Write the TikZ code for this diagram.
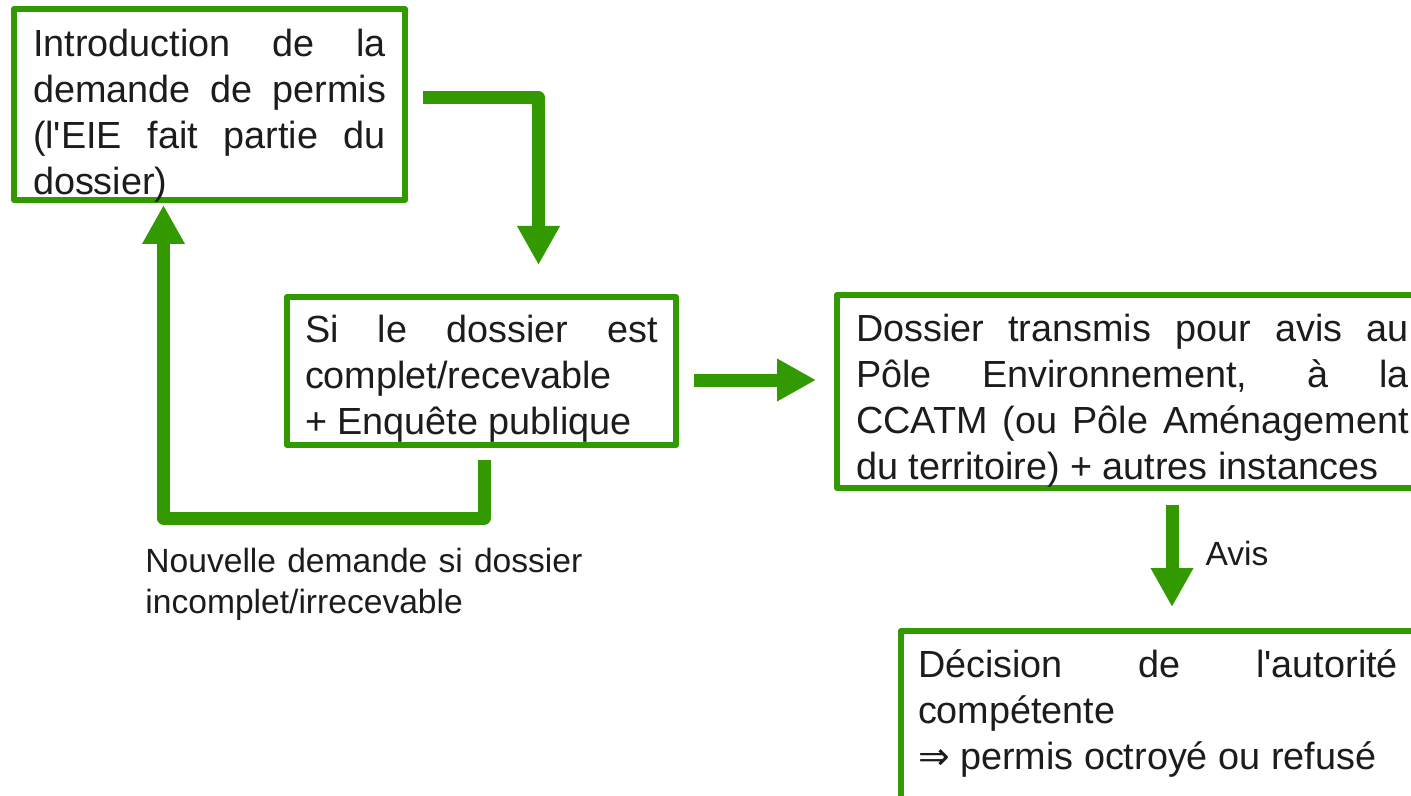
\documentclass[tikz,border=0pt]{standalone}
\usepackage{fontspec}
\setmainfont{Liberation Sans}
\newfontfamily\flechefont{DejaVu Sans}
\usetikzlibrary{arrows.meta}
\definecolor{vert}{RGB}{51,153,0}
\definecolor{encre}{RGB}{28,28,28}
\tolerance=10000
\hbadness=10000
\hyphenpenalty=10000
\exhyphenpenalty=10000

\begin{document}
\begin{tikzpicture}[x=0.5pt, y=-0.5pt]
        \tikzstyle{etape} = [rectangle, draw=vert, line width=3pt, line join=round, outer sep=0pt, inner ysep=0pt, anchor=north west, align=justify, text=encre, font=\fontsize{18.9}{23}\selectfont];
        \tikzstyle{fleche} = [draw=vert, line width=6.5pt, line join=round, -{Triangle[length=19.5pt, width=20pt]}];
        \tikzstyle{note} = [text=encre, inner sep=0pt, font=\fontsize{16.8}{20.5}\selectfont];

        \useasboundingbox (0,0) rectangle (1411,796);
        \clip (0,0) rectangle (1411,796);

        \node(intro) [etape, inner xsep=9.5pt, text width=176.5pt, text height=24pt, text depth=71.5pt] at (14,9) {Introduction de la\linebreak demande de permis\linebreak (l\textquotesingle EIE fait partie du\linebreak dossier)};
        \node(check) [etape, inner xsep=9pt, text width=176.5pt, text height=23pt, text depth=51pt] at (287,297) {Si le dossier est\linebreak complet/recevable\\ + Enquête publique};
        \node(transmis) [etape, inner xsep=9.5pt, text width=276.5pt, text height=23pt, text depth=73.5pt] at (837,295) {Dossier transmis pour avis au\linebreak Pôle Environnement, à la\linebreak CCATM (ou Pôle Aménagement\linebreak du territoire) + autres instances};
        \node(decision) [etape, inner xsep=8.5pt, text width=240pt, text height=23pt, text depth=61pt] at (901,631) {Décision de l\textquotesingle autorité\linebreak compétente\\ {\flechefont ⇒} permis octroyé ou refusé};
        \node(retour) [note, anchor=base west, text width=240pt, align=left] at (145,572) {Nouvelle demande si dossier\\ incomplet/irrecevable};

        \draw[fleche] ([shift={(18,-7)}]intro.east) -| ([shift={(57,-32)}]check.north);
        \draw[fleche] ([shift={(2.5,15)}]check.south) -- ++(0,58) -| ([shift={(-46,5)}]intro.south);
        \draw[fleche, shorten <=9pt, shorten >=10.5pt] (check.east |- 0,380) -- (transmis.west |- 0,380);
        \draw[fleche, shorten <=8.5pt, shorten >=12pt] (1172,0 |- transmis.south) -- (1172,0 |- decision.north) node[note, pos=0.4545, anchor=west, xshift=13.5pt] {Avis};

    \end{tikzpicture}
\end{document}
